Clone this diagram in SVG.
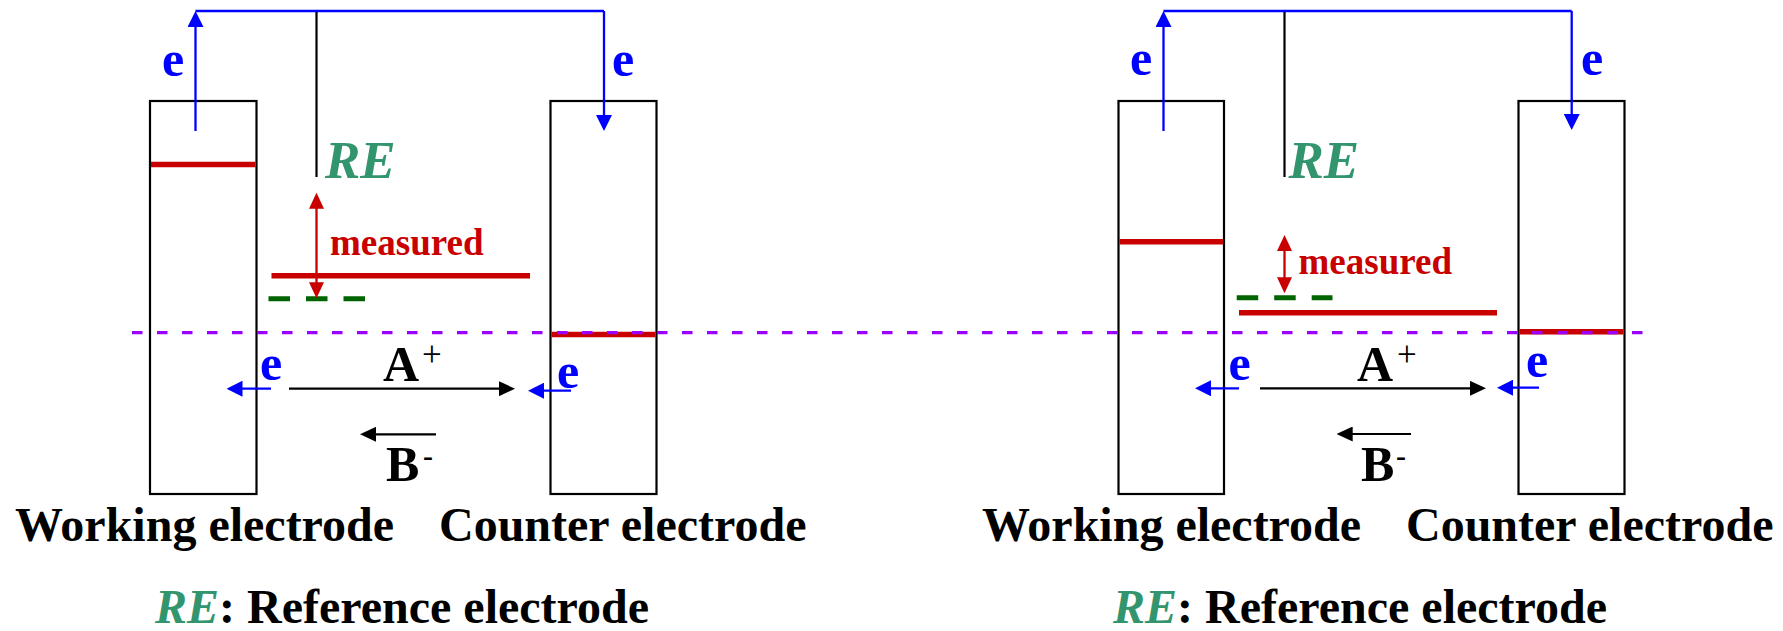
<svg xmlns="http://www.w3.org/2000/svg" width="1783" height="631" viewBox="0 0 1783 631">
<style>
  .t{font-family:"Liberation Serif","Times New Roman",serif;font-weight:bold}
  .big{font-size:50px}
  .lbl{font-size:48px;fill:#000}
  .blue{fill:#0000FF}
  .re{fill:#33956D;font-style:italic}
  .rebig{font-size:53px}
  .red{fill:#C80000}
  .sup{font-size:30px}
  .plus{font-size:35px;font-weight:normal}
  .el{fill:none;stroke:#000;stroke-width:2.2}
  .lvl{stroke:#C80000;stroke-width:5.5}
  .wire{fill:none;stroke:#0000FF;stroke-width:2.3}
  .bk{fill:none;stroke:#000;stroke-width:2.2}
  .rd{fill:none;stroke:#C80000;stroke-width:2.3}
  .gdash{stroke:#006400;stroke-width:5;stroke-dasharray:21.5 16}
  .pdash{stroke:#9B00FF;stroke-width:3.3;stroke-dasharray:10.5 14.5}
</style>
<defs>
  <marker id="ab" markerUnits="userSpaceOnUse" viewBox="0 0 16 16" refX="8" refY="8" markerWidth="16" markerHeight="16" orient="auto"><path d="M0,0 L16,8 L0,16 z" fill="#0000FF"/></marker>
  <marker id="ak" markerUnits="userSpaceOnUse" viewBox="0 0 16 15" refX="8" refY="7.5" markerWidth="16" markerHeight="15" orient="auto"><path d="M0,0 L16,7.5 L0,15 z" fill="#000"/></marker>
  <marker id="ar" markerUnits="userSpaceOnUse" viewBox="0 0 16 15" refX="8" refY="7.5" markerWidth="16" markerHeight="15" orient="auto-start-reverse"><path d="M0,0 L16,7.5 L0,15 z" fill="#C80000"/></marker>
</defs>
<rect width="1783" height="631" fill="#fff"/>

<!-- LEFT PANEL -->
<g id="left-working-electrode">
  <rect class="el" x="150" y="101" width="106.5" height="393"/>
  <line class="lvl" x1="151" y1="164.5" x2="255.5" y2="164.5"/>
</g>
<g id="left-counter-electrode">
  <rect class="el" x="550.5" y="101" width="106" height="393"/>
  <line class="lvl" x1="551.5" y1="334.5" x2="655.5" y2="334.5"/>
</g>
<g id="left-reference">
  <line class="bk" x1="316.5" y1="11" x2="316.5" y2="177"/>
  <text class="t rebig re" x="325" y="178">RE</text>
</g>
<g id="left-levels">
  <line class="lvl" x1="271.5" y1="275.7" x2="530" y2="275.7"/>
  <line class="gdash" x1="268.5" y1="298.7" x2="365" y2="298.7"/>
  <text class="t red" style="font-size:37px" x="330" y="255">measured</text>
</g>
<g id="left-labels">
  <text class="t big blue" x="162" y="76">e</text>
  <text class="t big blue" x="612" y="76">e</text>
  <text class="t big blue" x="260" y="380">e</text>
  <text class="t big blue" x="557" y="388">e</text>
  <text class="t big" x="383" y="381">A</text>
  <text class="t plus" x="422" y="366">+</text>
  <text class="t big" x="386" y="481">B</text>
  <text class="t sup" x="423" y="466">-</text>
  <text class="t lbl" x="15" y="541">Working electrode</text>
  <text class="t lbl" x="439" y="541">Counter electrode</text>
  <text class="t lbl" x="155" y="623"><tspan class="re">RE</tspan>: Reference electrode</text>
</g>

<!-- RIGHT PANEL -->
<g id="right-working-electrode">
  <rect class="el" x="1118.5" y="101" width="105.5" height="393"/>
  <line class="lvl" x1="1119.5" y1="241.7" x2="1223" y2="241.7"/>
</g>
<g id="right-counter-electrode">
  <rect class="el" x="1518.5" y="101" width="106" height="393"/>
  <line class="lvl" x1="1519.5" y1="331.7" x2="1623.5" y2="331.7"/>
</g>
<g id="right-reference">
  <line class="bk" x1="1284.5" y1="11" x2="1284.5" y2="177"/>
  <text class="t rebig re" x="1288.5" y="178">RE</text>
</g>
<g id="right-levels">
  <line class="lvl" x1="1239" y1="312.7" x2="1497" y2="312.7"/>
  <line class="gdash" x1="1236.7" y1="297.7" x2="1332.5" y2="297.7"/>
  <text class="t red" style="font-size:37px" x="1298.5" y="274">measured</text>
</g>
<g id="right-labels">
  <text class="t big blue" x="1130" y="75">e</text>
  <text class="t big blue" x="1581" y="75">e</text>
  <text class="t big blue" x="1228.5" y="380">e</text>
  <text class="t big blue" x="1526" y="377">e</text>
  <text class="t big" x="1357" y="381">A</text>
  <text class="t plus" x="1397" y="366">+</text>
  <text class="t big" x="1361" y="481">B</text>
  <text class="t sup" x="1396" y="466">-</text>
  <text class="t lbl" x="982" y="541">Working electrode</text>
  <text class="t lbl" x="1406" y="541">Counter electrode</text>
  <text class="t lbl" x="1113" y="623"><tspan class="re">RE</tspan>: Reference electrode</text>
</g>

<!-- CONNECTORS -->
<g id="connectors">
  <line class="pdash" x1="132" y1="332.7" x2="1644" y2="332.7"/>
  <!-- left panel -->
  <line class="wire" x1="195.5" y1="131" x2="195.5" y2="19" marker-end="url(#ab)"/>
  <line class="wire" x1="195.5" y1="11" x2="604" y2="11"/>
  <line class="wire" x1="604" y1="11" x2="604" y2="123" marker-end="url(#ab)"/>
  <line class="rd" x1="316.5" y1="200.7" x2="316.5" y2="290.3" marker-start="url(#ar)" marker-end="url(#ar)"/>
  <line class="wire" x1="271" y1="388.7" x2="234.5" y2="388.7" marker-end="url(#ab)"/>
  <line class="wire" x1="571" y1="390.7" x2="536" y2="390.7" marker-end="url(#ab)"/>
  <line class="bk" x1="289" y1="388.7" x2="507" y2="388.7" marker-end="url(#ak)"/>
  <line class="bk" x1="436" y1="434.3" x2="368" y2="434.3" marker-end="url(#ak)"/>
  <!-- right panel -->
  <line class="wire" x1="1163.5" y1="131" x2="1163.5" y2="19" marker-end="url(#ab)"/>
  <line class="wire" x1="1163.5" y1="11" x2="1571.7" y2="11"/>
  <line class="wire" x1="1571.7" y1="11" x2="1571.7" y2="122" marker-end="url(#ab)"/>
  <line class="rd" x1="1284.5" y1="243" x2="1284.5" y2="285.3" marker-start="url(#ar)" marker-end="url(#ar)"/>
  <line class="wire" x1="1239" y1="388.3" x2="1203" y2="388.3" marker-end="url(#ab)"/>
  <line class="wire" x1="1539" y1="387.7" x2="1505" y2="387.7" marker-end="url(#ab)"/>
  <line class="bk" x1="1260" y1="388.3" x2="1478" y2="388.3" marker-end="url(#ak)"/>
  <line class="bk" x1="1411" y1="434" x2="1344.7" y2="434" marker-end="url(#ak)"/>
</g>
</svg>
